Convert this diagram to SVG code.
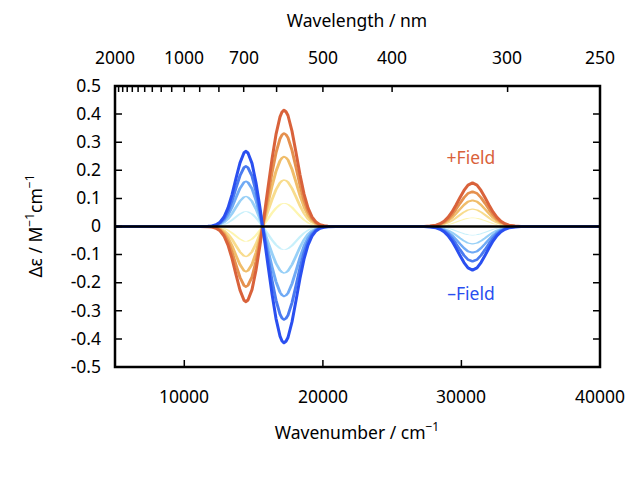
<svg xmlns="http://www.w3.org/2000/svg" width="640" height="480" viewBox="0 0 640 480">
<style>
text{font-family:"Noto Sans","DejaVu Sans",sans-serif;font-size:17.5px;fill:#000}
.c{fill:none;stroke-width:3;stroke-linejoin:round;vector-effect:non-scaling-stroke}
.t{stroke:#000;stroke-width:1.5}
</style>
<defs>
<path id="f" d="M115,0 L200,0 L208,0.18 L212,0.58 L216,1.68 L220,4.26 L224,9.48 L228,18.6 L232,31.9 L236,48.1 L240,63.6 L244,73.8 L246,75.2 L248,73.5 L252,63.1 L256,43.7 L260,18.6 L264,-9.6 L268,-38.9 L272,-67.3 L276,-92.1 L280,-109.6 L282,-114.5 L284,-116.3 L286,-114.8 L288,-111 L292,-95.4 L296,-74 L300,-51.7 L304,-32.6 L308,-18.6 L312,-9.55 L316,-4.42 L320,-1.85 L324,-0.7 L328,-0.24 L336,0 L424,0 L430,-0.4 L436,-1.37 L440,-2.79 L444,-5.27 L448,-9.14 L452,-14.6 L456,-21.5 L460,-29 L464,-36.1 L468,-41.4 L472.5,-43.6 L477,-41.4 L481,-36.1 L485,-29 L489,-21.5 L493,-14.6 L497,-9.14 L501,-5.27 L505,-2.79 L509,-1.37 L515,-0.4 L521,0 L600,0"/>
</defs>
<g id="curves">
<use href="#f" class="c" stroke="#fdf5b0" transform="translate(0,226.5) scale(1,0.2)"/>
<use href="#f" class="c" stroke="#c8f0fb" transform="translate(0,226.5) scale(1,-0.2)"/>
<use href="#f" class="c" stroke="#f8dc8d" transform="translate(0,226.5) scale(1,0.4)"/>
<use href="#f" class="c" stroke="#98d0f7" transform="translate(0,226.5) scale(1,-0.4)"/>
<use href="#f" class="c" stroke="#f0bd6a" transform="translate(0,226.5) scale(1,0.6)"/>
<use href="#f" class="c" stroke="#70aaf5" transform="translate(0,226.5) scale(1,-0.6)"/>
<use href="#f" class="c" stroke="#e5904e" transform="translate(0,226.5) scale(1,0.8)"/>
<use href="#f" class="c" stroke="#4a7af0" transform="translate(0,226.5) scale(1,-0.8)"/>
<use href="#f" class="c" stroke="#d9623b" transform="translate(0,226.5) scale(1,1)"/>
<use href="#f" class="c" stroke="#2a4ff0" transform="translate(0,226.5) scale(1,-1)"/>
<line x1="115" y1="226.5" x2="600" y2="226.5" stroke="#000" stroke-width="2.5"/>
</g>
<g id="axes">
<rect x="115" y="86" width="485" height="281" fill="none" stroke="#000" stroke-width="2.5"/>
<path class="t" d="M115,114.1h7M115,142.2h7M115,170.3h7M115,198.4h7M115,226.5h7M115,254.6h7M115,282.7h7M115,310.8h7M115,338.9h7
M600,114.1h-7M600,142.2h-7M600,170.3h-7M600,198.4h-7M600,254.6h-7M600,282.7h-7M600,310.8h-7M600,338.9h-7
M184.3,367v-7M322.9,367v-7M461.4,367v-7
M118.6,86v6M122.7,86v6M127.2,86v6M132.3,86v6M138.1,86v6M144.7,86v6M152.3,86v6M161.2,86v6M171.7,86v6M184.3,86v6M199.7,86v6M218.9,86v6M243.7,86v6M276.6,86v6M322.9,86v6M392.1,86v6M507.6,86v6"/>
</g>
<g id="labels">
<g text-anchor="end">
<text x="101" y="92">0.5</text><text x="101" y="120">0.4</text><text x="101" y="148">0.3</text><text x="101" y="176">0.2</text><text x="101" y="204">0.1</text><text x="101" y="232">0</text><text x="101" y="260">-0.1</text><text x="101" y="288">-0.2</text><text x="101" y="317">-0.3</text><text x="101" y="345">-0.4</text><text x="101" y="373">-0.5</text>
</g>
<g text-anchor="middle">
<text x="184" y="403">10000</text><text x="323" y="403">20000</text><text x="461" y="403">30000</text><text x="600" y="403">40000</text>
<text x="115" y="64">2000</text><text x="184" y="64">1000</text><text x="244" y="64">700</text><text x="323" y="64">500</text><text x="392" y="64">400</text><text x="507" y="64">300</text><text x="600" y="64">250</text>
<text x="357" y="27">Wavelength / nm</text>
<text x="357" y="439">Wavenumber / cm<tspan dy="-8" font-size="12">−1</tspan></text>
<text transform="translate(42,226) rotate(-90)">Δε / M<tspan dy="-8" font-size="12">−1</tspan><tspan dy="8">cm</tspan><tspan dy="-8" font-size="12">−1</tspan></text>
<text x="471" y="164" style="fill:#d9623b">+Field</text>
<text x="471" y="300" style="fill:#2a4ff0">–Field</text>
</g>
</g>
</svg>
